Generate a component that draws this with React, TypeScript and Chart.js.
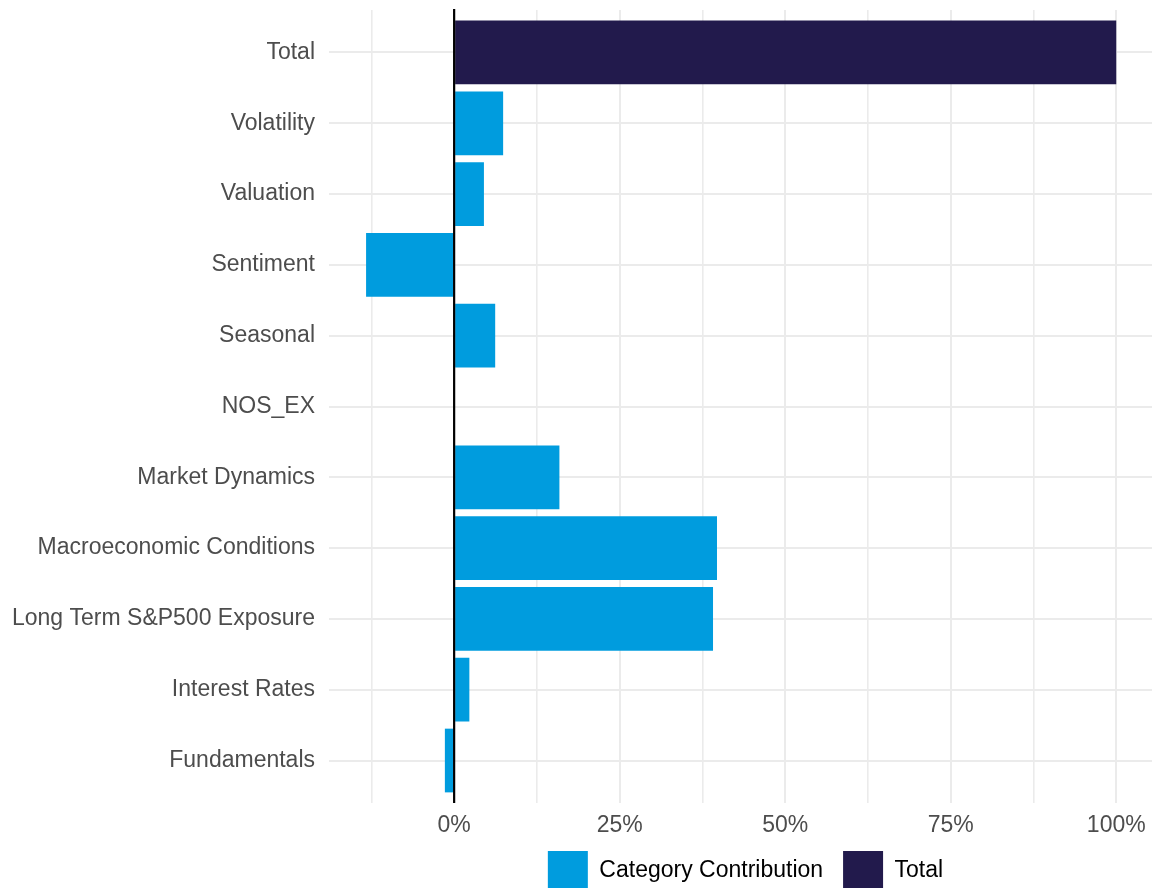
import React, { useEffect, useRef } from "react";
import { Chart, registerables } from "chart.js";

Chart.register(...registerables);

const categories = [
  "Total",
  "Volatility",
  "Valuation",
  "Sentiment",
  "Seasonal",
  "NOS_EX",
  "Market Dynamics",
  "Macroeconomic Conditions",
  "Long Term S&P500 Exposure",
  "Interest Rates",
  "Fundamentals",
];

// Category contribution (%) for every category except "Total"
const contributionValues = [null, 7.4, 4.5, -13.3, 6.2, 0, 15.9, 39.7, 39.1, 2.3, -1.4];
// Total (%) only for "Total"
const totalValues = [100, null, null, null, null, null, null, null, null, null, null];

const xTickValues = [-12.5, 0, 12.5, 25, 37.5, 50, 62.5, 75, 87.5, 100];
const xMin = -18.9;
const xMax = 105.4;

const FONT = "'Liberation Sans', Arial, Helvetica, sans-serif";

const zeroLinePlugin = {
  id: "zeroLine",
  afterDatasetsDraw(chart: any) {
    const x = chart.scales.x.getPixelForValue(0);
    const { top, bottom } = chart.chartArea;
    const ctx = chart.ctx;
    ctx.save();
    ctx.strokeStyle = "#000000";
    ctx.lineWidth = 2.2;
    ctx.beginPath();
    ctx.moveTo(x, top - 1);
    ctx.lineTo(x, bottom);
    ctx.stroke();
    ctx.restore();
  },
};

const legendShiftPlugin = {
  id: "legendShift",
  afterLayout(chart: any) {
    if (chart.legend) {
      chart.legend.left = chart.chartArea.left + 10;
      chart.legend.top = chart.chartArea.bottom + 28;
    }
  },
};

export default function App() {
  const canvasRef = useRef<HTMLCanvasElement | null>(null);

  useEffect(() => {
    if (!canvasRef.current) return;
    const toPoints = (vals: (number | null)[]) =>
      vals
        .map((v, i) => (v === null ? null : { x: v, y: i }))
        .filter((p) => p !== null);

    const chart = new Chart(canvasRef.current, {
      type: "bar",
      data: {
        datasets: [
          {
            label: "Category Contribution",
            data: toPoints(contributionValues) as any,
            backgroundColor: "#009CDE",
            borderWidth: 0,
          },
          {
            label: "Total",
            data: toPoints(totalValues) as any,
            backgroundColor: "#221A4C",
            borderWidth: 0,
          },
        ],
      },
      options: {
        animation: false,
        responsive: true,
        maintainAspectRatio: false,
        indexAxis: "y",
        datasets: {
          bar: {
            grouped: false,
            barPercentage: 0.9,
            categoryPercentage: 1.0,
          },
        },
        layout: { padding: { top: 10, right: 0, left: 0, bottom: 0 } },
        plugins: {
          tooltip: { enabled: false },
          legend: {
            position: "bottom",
            maxHeight: 45,
            labels: {
              boxWidth: 40,
              boxHeight: 40,
              padding: 20,
              color: "#000000",
              font: { family: FONT, size: 23 },
            },
          },
        },
        scales: {
          y: {
            type: "linear",
            reverse: true,
            offset: false,
            min: -0.6,
            max: categories.length - 0.4,
            afterBuildTicks: (scale: any) => {
              scale.ticks = categories.map((_, i) => ({ value: i }));
            },
            afterFit: (scale: any) => {
              scale.width = 329;
              scale.paddingTop = 0;
              scale.paddingBottom = 0;
            },
            border: { display: false },
            grid: {
              offset: false,
              color: "#EBEBEB",
              lineWidth: 2,
              drawTicks: false,
            },
            ticks: {
              autoSkip: false,
              padding: 14,
              color: "#4D4D4D",
              font: { family: FONT, size: 23 },
              callback: (v: any) => categories[v as number] ?? "",
            },
          },
          x: {
            type: "linear",
            min: xMin,
            max: xMax,
            afterBuildTicks: (scale: any) => {
              scale.ticks = xTickValues.map((v) => ({ value: v }));
            },
            afterFit: (scale: any) => {
              scale.height = 40;
              scale.paddingLeft = 0;
              scale.paddingRight = 0;
            },
            border: { display: false },
            grid: {
              color: "#EBEBEB",
              lineWidth: (ctx: any) =>
                ctx.tick && ctx.tick.value % 25 === 0 ? 2 : 1.6,
              drawTicks: false,
            },
            ticks: {
              autoSkip: false,
              maxRotation: 0,
              padding: 9,
              color: "#4D4D4D",
              font: { family: FONT, size: 23 },
              callback: (v: any) => ((v as number) % 25 === 0 ? `${v}%` : ""),
            },
          },
        },
      },
      plugins: [zeroLinePlugin, legendShiftPlugin],
    });

    return () => {
      chart.destroy();
    };
  }, []);

  return (
    <div
      style={{
        position: "fixed",
        left: 0,
        top: 0,
        width: 1152,
        height: 888,
        background: "#ffffff",
      }}
    >
      <canvas ref={canvasRef} />
    </div>
  );
}
